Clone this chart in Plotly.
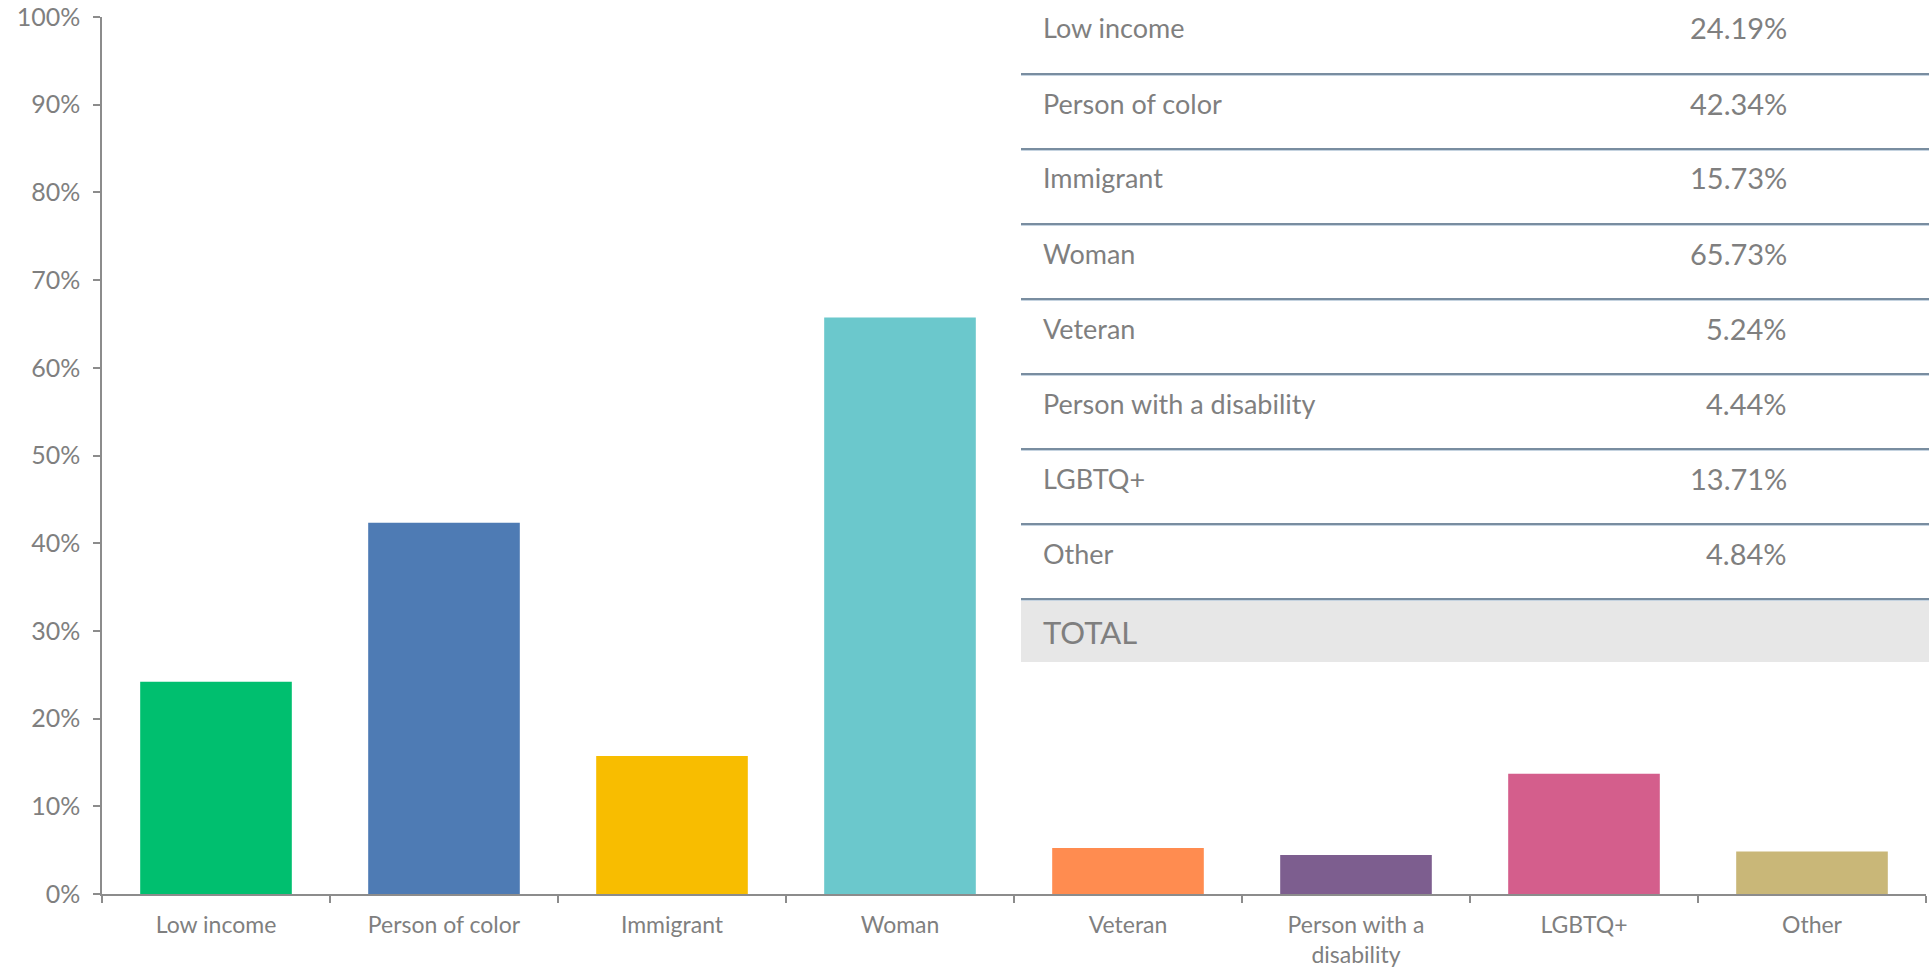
import plotly.graph_objects as go

categories = ["Low income", "Person of color", "Immigrant", "Woman", "Veteran",
              "Person with a disability", "LGBTQ+", "Other"]
axis_labels = ["Low income", "Person of color", "Immigrant", "Woman", "Veteran",
               "Person with a<br>disability", "LGBTQ+", "Other"]
values = [24.19, 42.34, 15.73, 65.73, 5.24, 4.44, 13.71, 4.84]
colors = ["#00bf6f", "#4e7bb4", "#f8bd00", "#6bc8cc", "#ff8c50", "#7d5e8f", "#d45e8c", "#c9b778"]
total_label = "TOTAL"

W, H = 1929, 967
# plot area in page pixels: x 102..1926, y 17..894
L, R, T, B = 102, W - 1926, 17, H - 894
PW, PH = W - L - R, H - T - B

def px(x):
    return (x - L) / PW

def py(y):
    return (H - B - y) / PH

FONT = "Lato, 'Open Sans', sans-serif"
GRAY = "#7f7f7f"

fig = go.Figure(go.Bar(
    x=axis_labels, y=[v / 100 for v in values],
    marker=dict(color=colors, line=dict(width=0)),
    width=0.665, hoverinfo="skip",
))

shapes = []
annotations = []
tx0, tx1 = 1021, 1935
row_h = 75.0
for i, (cat, v) in enumerate(zip(categories, values)):
    top = i * row_h - 1
    annotations.append(dict(xref="paper", yref="paper", x=px(1041), y=py(top + 29),
                            text=cat, showarrow=False, xanchor="left", yanchor="middle",
                            font=dict(size=27, color=GRAY, family=FONT)))
    annotations.append(dict(xref="paper", yref="paper", x=px(1789), y=py(top + 29),
                            text=f"{v:.2f}%", showarrow=False, xanchor="right", yanchor="middle",
                            font=dict(size=29, color=GRAY, family=FONT)))
    ybot = top + row_h
    shapes.append(dict(type="line", xref="paper", yref="paper", x0=px(tx0), x1=px(tx1),
                       y0=py(ybot), y1=py(ybot), line=dict(color="#4d6780", width=1.5)))
    shapes.append(dict(type="line", xref="paper", yref="paper", x0=px(tx0), x1=px(tx1),
                       y0=py(ybot + 1.5), y1=py(ybot + 1.5), line=dict(color="#c5d3e0", width=1)))

n = len(categories)
ttop = n * row_h - 1 + 1.5
shapes.append(dict(type="rect", xref="paper", yref="paper", x0=px(tx0), x1=px(tx1),
                   y0=py(ttop), y1=py(662), fillcolor="#e7e7e7", line=dict(width=0), layer="below"))
annotations.append(dict(xref="paper", yref="paper", x=px(1041), y=py(632),
                        text=total_label, showarrow=False, xanchor="left", yanchor="middle",
                        font=dict(size=31, color=GRAY, family=FONT)))

fig.update_layout(
    width=W, height=H,
    margin=dict(l=L, r=R, t=T, b=B, pad=0, autoexpand=False),
    paper_bgcolor="white", plot_bgcolor="white",
    showlegend=False,
    shapes=shapes, annotations=annotations,
    font=dict(family=FONT, color=GRAY),
    xaxis=dict(showgrid=False, zeroline=False, showline=True, linecolor="#8c8c8c", linewidth=1.5,
               ticks="outside", ticklen=7, tickcolor="#8c8c8c", tickwidth=1.5,
               tickson="boundaries", tickfont=dict(size=23, color=GRAY, family=FONT),
               ticklabelstandoff=10, fixedrange=True, automargin=False),
    yaxis=dict(range=[0, 1], tickvals=[i / 10 for i in range(11)], tickformat=".0%",
               showgrid=False, zeroline=False, showline=True, linecolor="#8c8c8c", linewidth=1.5,
               ticks="outside", ticklen=7, tickcolor="#8c8c8c", tickwidth=1.5,
               tickfont=dict(size=25, color=GRAY, family=FONT), ticklabelstandoff=8,
               fixedrange=True, automargin=False),
)

fig.write_html("out.html", config={"displayModeBar": False},
               post_script="document.body.style.margin='0';document.body.style.overflow='hidden';")
